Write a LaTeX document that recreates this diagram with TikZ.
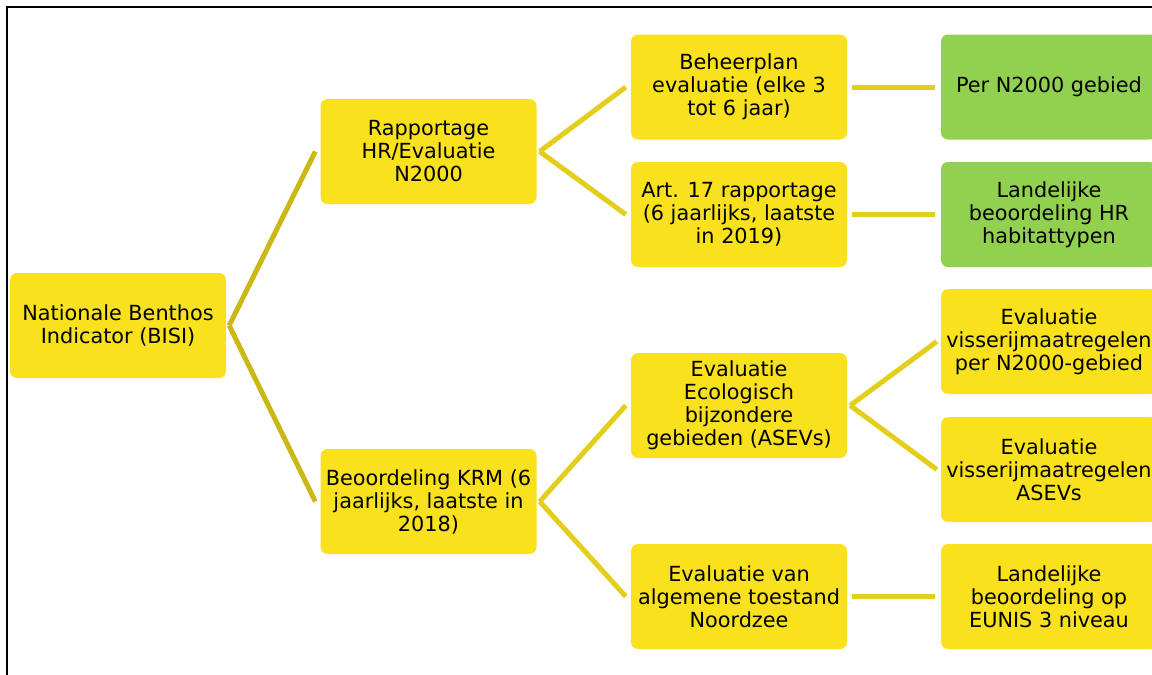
\documentclass[tikz,border=0pt]{standalone}
\usepackage{fontspec}
\setmainfont{DejaVu Sans}
\definecolor{boxyellow}{HTML}{F9E11E}
\definecolor{boxgreen}{HTML}{92D050}
\definecolor{linkdark}{HTML}{CBB716}
\definecolor{linklight}{HTML}{E3CE1C}
\tikzset{
  box/.style={fill=boxyellow, rounded corners=7pt, minimum width=216pt, minimum height=105pt,
    align=center, inner sep=1pt, font=\fontsize{20.8}{23}\selectfont, text=black},
  gbox/.style={box, fill=boxgreen},
  linkA/.style={draw=linkdark, line width=5pt},
  linkB/.style={draw=linklight, line width=5pt},
}
\begin{document}
\begin{tikzpicture}[x=1pt,y=-1pt]
\useasboundingbox (0,0) rectangle (1152,675);
\draw[line width=2pt, black] (1170,7) -- (7,7) -- (7,690);
% nodes
\node[box] (root) at (118,325.5) {Nationale Benthos\\Indicator (BISI)};
\node[box] (rap) at (428.5,151.5) {Rapportage\\HR/Evaluatie\\N2000};
\node[box] (beo) at (428.5,501.5) {Beoordeling KRM (6\\jaarlijks, laatste in\\2018)};
\node[box] (beh) at (739,87) {Beheerplan\\evaluatie (elke 3\\tot 6 jaar)};
\node[box] (art) at (739,214.5) {Art. 17 rapportage\\(6 jaarlijks, laatste\\in 2019)};
\node[box] (eco) at (739,405.5) {Evaluatie\\Ecologisch\\bijzondere\\gebieden (ASEVs)};
\node[box] (alg) at (739,596.5) {Evaluatie van\\algemene toestand\\Noordzee};
\node[gbox] (per) at (1049,87) {Per N2000 gebied};
\node[gbox] (lhr) at (1049,214.5) {Landelijke\\beoordeling HR\\habitattypen};
\node[box] (vpn) at (1049,341.5) {Evaluatie\\visserijmaatregelen\\per N2000-gebied};
\node[box] (vas) at (1049,469.5) {Evaluatie\\visserijmaatregelen\\ASEVs};
\node[box] (leu) at (1049,596.5) {Landelijke\\beoordeling op\\EUNIS 3 niveau};
% connectors
\coordinate (r0) at ([xshift=3pt]root.east);
\coordinate (a0) at ([xshift=3pt]rap.east);
\coordinate (b0) at ([xshift=3pt]beo.east);
\coordinate (e0) at ([xshift=3pt]eco.east);
\draw[linkA] (r0) -- ([xshift=-5pt]rap.west);
\draw[linkA] (r0) -- ([xshift=-5pt]beo.west);
\draw[linkB] (a0) -- ([xshift=-5pt]beh.west);
\draw[linkB] (a0) -- ([xshift=-5pt]art.west);
\draw[linkB] (b0) -- ([xshift=-5pt]eco.west);
\draw[linkB] (b0) -- ([xshift=-5pt]alg.west);
\draw[linkB] ([xshift=5pt]beh.east) -- ([xshift=-6pt]per.west);
\draw[linkB] ([xshift=5pt]art.east) -- ([xshift=-6pt]lhr.west);
\draw[linkB] (e0) -- ([xshift=-4pt]vpn.west);
\draw[linkB] (e0) -- ([xshift=-4pt]vas.west);
\draw[linkB] ([xshift=5pt]alg.east) -- ([xshift=-6pt]leu.west);
\end{tikzpicture}
\end{document}
